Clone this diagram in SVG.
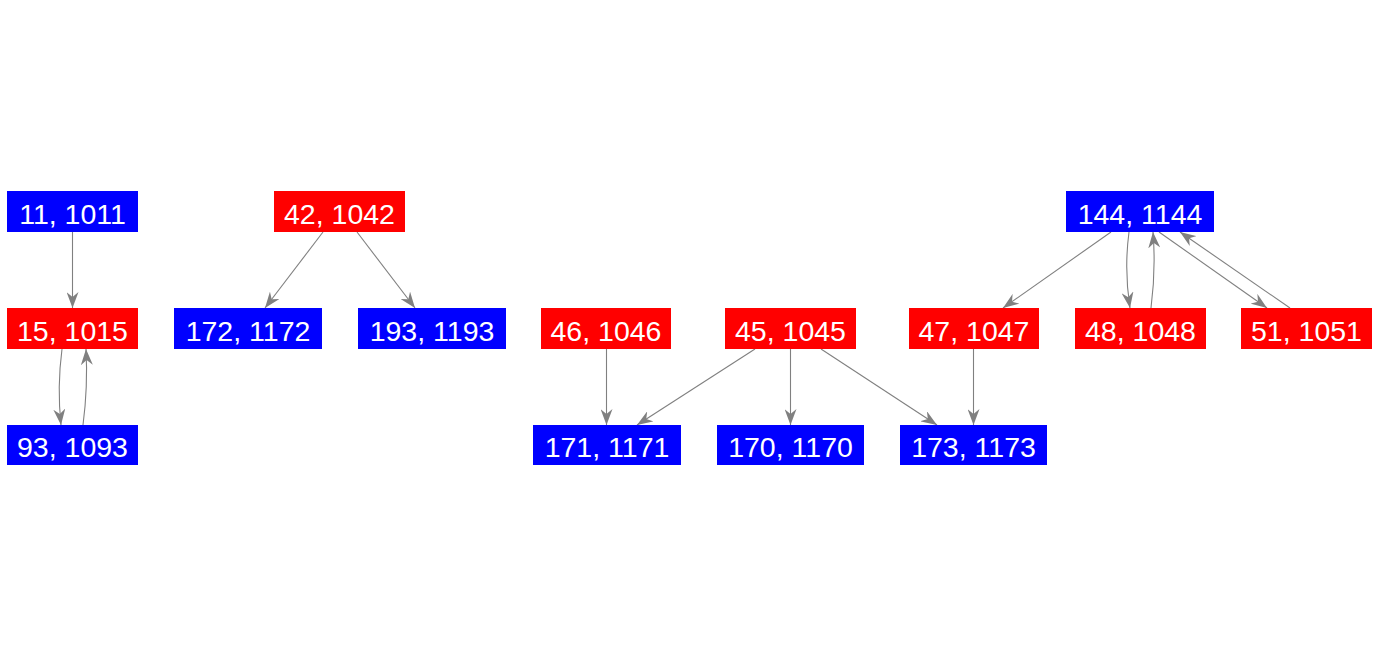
<svg xmlns="http://www.w3.org/2000/svg" width="1379" height="656" viewBox="0 0 1379 656">
<style>
.r{fill:#ff0000}
.b{fill:#0000ff}
text{font-family:"Liberation Sans",Arial,sans-serif;font-size:28.5px;fill:#ffffff;text-anchor:middle}
.e{fill:none;stroke:#808080;stroke-width:1.1;marker-end:url(#a)}
</style>
<defs>
<marker id="a" markerUnits="userSpaceOnUse" viewBox="0 0 16 12" markerWidth="16" markerHeight="12" refX="16" refY="6" orient="auto">
<path d="M0,0 L16,6 L0,12 L5,6 z" fill="#808080"/>
</marker>
</defs>
<rect width="1379" height="656" fill="#ffffff"/>
<g id="connectors">
<path class="e" d="M72.5,232 L72.5,308"/>
<path class="e" d="M62,349 Q57,387 61,425"/>
<path class="e" d="M83,425 Q88,387 86,349"/>
<path class="e" d="M323,232 L265,308"/>
<path class="e" d="M357,232 L415,308"/>
<path class="e" d="M606.5,349 L606.5,425"/>
<path class="e" d="M755,349 L637,425"/>
<path class="e" d="M790.5,349 L790.5,425"/>
<path class="e" d="M821,349 L937,425"/>
<path class="e" d="M973.5,349 L973.5,425"/>
<path class="e" d="M1111,232 L1003,308"/>
<path class="e" d="M1129,232 Q1124,270 1130,308"/>
<path class="e" d="M1151,308 Q1156,270 1153,232"/>
<path class="e" d="M1159,232 L1267,308"/>
<path class="e" d="M1290,308 L1180,232"/>
</g>
<g id="n11"><rect class="b" x="7" y="191" width="131" height="41"/><text x="72.5" y="224">11, 1011</text></g>
<g id="n15"><rect class="r" x="7" y="308" width="131" height="41"/><text x="72.5" y="341">15, 1015</text></g>
<g id="n93"><rect class="b" x="7" y="425" width="131" height="40"/><text x="72.5" y="457">93, 1093</text></g>
<g id="n42"><rect class="r" x="274" y="191" width="131" height="41"/><text x="339.5" y="224">42, 1042</text></g>
<g id="n172"><rect class="b" x="174" y="308" width="148" height="41"/><text x="248" y="341">172, 1172</text></g>
<g id="n193"><rect class="b" x="358" y="308" width="148" height="41"/><text x="432" y="341">193, 1193</text></g>
<g id="n46"><rect class="r" x="541" y="308" width="130" height="41"/><text x="606" y="341">46, 1046</text></g>
<g id="n45"><rect class="r" x="725" y="308" width="131" height="41"/><text x="790.5" y="341">45, 1045</text></g>
<g id="n47"><rect class="r" x="909" y="308" width="130" height="41"/><text x="974" y="341">47, 1047</text></g>
<g id="n48"><rect class="r" x="1075" y="308" width="131" height="41"/><text x="1140.5" y="341">48, 1048</text></g>
<g id="n51"><rect class="r" x="1241" y="308" width="131" height="41"/><text x="1306.5" y="341">51, 1051</text></g>
<g id="n171"><rect class="b" x="533" y="425" width="148" height="40"/><text x="607" y="457">171, 1171</text></g>
<g id="n170"><rect class="b" x="717" y="425" width="147" height="40"/><text x="790.5" y="457">170, 1170</text></g>
<g id="n173"><rect class="b" x="900" y="425" width="147" height="40"/><text x="973.5" y="457">173, 1173</text></g>
<g id="n144"><rect class="b" x="1066" y="191" width="148" height="41"/><text x="1140" y="224">144, 1144</text></g>
</svg>
